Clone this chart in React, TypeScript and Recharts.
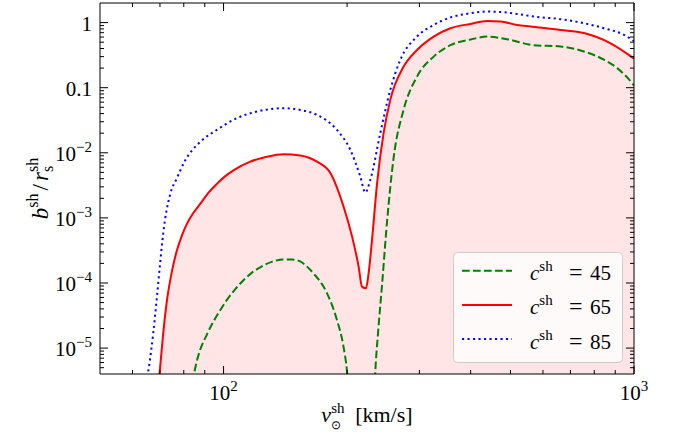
import React from 'react';
import { ComposedChart, Area, Line, XAxis, YAxis, Legend } from 'recharts';

const FONT = "'Liberation Serif', 'Times New Roman', serif";

// c^sh = 45: dips out of the frame between ~200 and ~234 km/s
const v45 = [84, 85.95, 87.7, 91.0, 94.4, 98.05, 101.9, 106.7, 111.8, 117.1, 122.8, 131.0, 140, 146.6, 153.7, 159.5, 165.7, 178.6, 188.9, 196, 199.9, 202, 233, 234.3, 238.0, 243.3, 250.2, 259.6, 274.6, 296, 325, 357, 400, 438.6, 490, 570, 662, 755, 844.5, 910, 990, 1000];
const b45 = [3e-6, 6.1e-6, 9.4e-6, 1.6e-5, 2.53e-5, 3.79e-5, 5.5e-5, 7.97e-5, 1.1e-4, 1.43e-4, 1.74e-4, 2.11e-4, 2.3e-4, 2.3e-4, 2.15e-4, 1.8e-4, 1.4e-4, 7.0e-5, 2.7e-5, 1.05e-5, 4.4e-6, 2e-6, 2e-6, 4.4e-6, 1.77e-5, 9.35e-5, 8.7e-4, 8.35e-3, 0.046, 0.148, 0.3, 0.45, 0.55, 0.61, 0.556, 0.45, 0.43, 0.36, 0.27, 0.2, 0.117, 0.108];

// c^sh = 65
const v65 = [69.3, 70, 71.3, 72.7, 74.8, 76.9, 79.1, 81.4, 84.4, 87.7, 91.8, 96.3, 100.8, 105.7, 116.1, 127.5, 140, 153.7, 168.9, 182, 196, 205.6, 213.3, 217.4, 222.3, 225.6, 230, 236.6, 245.4, 254.8, 274.6, 296, 325, 357, 399.5, 438.6, 472.7, 519, 559.5, 662, 755, 877, 1000];
const b65 = [2.5e-6, 4.8e-6, 1.71e-5, 5.1e-5, 1.48e-4, 3.1e-4, 5.3e-4, 8.1e-4, 1.19e-3, 1.64e-3, 2.42e-3, 3.33e-3, 4.34e-3, 5.37e-3, 7.3e-3, 8.7e-3, 9.5e-3, 9.1e-3, 7.3e-3, 4.9e-3, 1.5e-3, 5.2e-4, 1.8e-4, 8.8e-5, 8.3e-5, 1.4e-4, 4.6e-4, 3.4e-3, 0.02, 0.065, 0.211, 0.38, 0.61, 0.82, 0.955, 1.06, 1.04, 0.92, 0.87, 0.77, 0.69, 0.48, 0.28];

// c^sh = 85
const v85 = [64.8, 65.6, 67.4, 68.7, 70.0, 71.3, 74.1, 77.0, 80.6, 84.0, 87.7, 96.3, 107.7, 120.5, 140, 153.7, 168.9, 188.9, 203.6, 215.4, 221.5, 227.7, 240.9, 254.8, 269.5, 296, 325, 357, 399.5, 438.6, 481.5, 519, 570, 662, 755, 844.5, 945, 1000];
const b85 = [3e-6, 4.6e-6, 1.7e-5, 5.5e-5, 1.9e-4, 5.9e-4, 2.3e-3, 4.1e-3, 7.6e-3, 0.0111, 0.0147, 0.0225, 0.034, 0.043, 0.0484, 0.0456, 0.0382, 0.0225, 0.0111, 4.3e-3, 2.45e-3, 3.8e-3, 0.02, 0.0925, 0.267, 0.61, 0.92, 1.2, 1.39, 1.48, 1.44, 1.36, 1.24, 1.13, 0.98, 0.82, 0.65, 0.52];

const seriesNames = ['45', '65', '85'];

// axis ticks
const xMajor = [100, 1000];
const xTickLabels = ['10^2', '10^3'];
const xMinor = [60, 70, 80, 90, 200, 300, 400, 500, 600, 700, 800, 900];
const yMajor = [1e-5, 1e-4, 1e-3, 1e-2, 0.1, 1];
const yTickLabels = ['10^\u22125', '10^\u22124', '10^\u22123', '10^\u22122', '0.1', '1'];
const yMinor: number[] = [];
[1e-6, 1e-5, 1e-4, 1e-3, 1e-2, 0.1].forEach((d) => {
  [2, 3, 4, 5, 6, 7, 8, 9].forEach((m) => {
    const t = +(m * d).toPrecision(3);
    if (t > 4e-6 && t < 2) yMinor.push(t);
  });
});

const rows = (xs: number[], ys: number[]) => xs.map((v, i) => ({ v, b: ys[i] }));
const data45 = rows(v45, b45);
const data65 = rows(v65, b65);
const data85 = rows(v85, b85);

const styles = [
  { color: 'green', dash: '7.7 3.3' },
  { color: 'red', dash: undefined },
  { color: 'blue', dash: '2.1 3.4' },
];

const textStyle = { fontFamily: FONT };

const TickText = ({ x, y, anchor, label }: any) => {
  const [base, sup] = label.split('^');
  return (
    <text x={x} y={y} textAnchor={anchor} fontSize={21} style={textStyle} fill="#000">
      {base}
      {sup && (
        <tspan dy={-9} fontSize={15}>
          {sup}
        </tspan>
      )}
    </text>
  );
};

const XTick = (props: any) => {
  const { x, y, payload, side } = props;
  const i = xMajor.indexOf(payload.value);
  const len = i >= 0 ? 8 : 4;
  const dir = side === 'bottom' ? -1 : 1;
  return (
    <g>
      <line x1={x} x2={x} y1={y} y2={y + dir * len} stroke="#000" strokeWidth={1} />
      {side === 'bottom' && i >= 0 && <TickText x={x} y={y + 26} anchor="middle" label={xTickLabels[i]} />}
    </g>
  );
};

const YTick = (props: any) => {
  const { x, y, payload, side } = props;
  const i = yMajor.indexOf(payload.value);
  const len = i >= 0 ? 8 : 4;
  const dir = side === 'left' ? 1 : -1;
  return (
    <g>
      <line x1={x} x2={x + dir * len} y1={y} y2={y} stroke="#000" strokeWidth={1} />
      {side === 'left' && i >= 0 && <TickText x={x - 8} y={y + 8} anchor="end" label={yTickLabels[i]} />}
    </g>
  );
};

const XLabel = ({ viewBox }: any) => {
  const cx = viewBox.x + viewBox.width / 2;
  return (
    <text x={cx} y={viewBox.y + 48} textAnchor="middle" fontSize={22} style={textStyle} fill="#000">
      <tspan fontStyle="italic">v</tspan>
      <tspan dy={-9} fontSize={15}>sh</tspan>
      <tspan dx={-13.3} dy={16} fontSize={12}>{'\u2299'}</tspan>
      <tspan dx={14} dy={-7}>[km/s]</tspan>
    </text>
  );
};

const YLabel = ({ viewBox }: any) => {
  const cx = viewBox.x + 48;
  const cy = viewBox.y + viewBox.height / 2;
  return (
    <text x={cx} y={cy} transform={`rotate(-90 ${cx} ${cy})`} textAnchor="middle" fontSize={23} style={textStyle} fill="#000">
      <tspan fontStyle="italic">b</tspan>
      <tspan dy={-10} fontSize={16}>sh</tspan>
      <tspan dy={10} dx={3}>/</tspan>
      <tspan fontStyle="italic" dx={3}>r</tspan>
      <tspan dy={-10} fontSize={16}>sh</tspan>
      <tspan dx={-14.2} dy={15} fontSize={16}>s</tspan>
    </text>
  );
};

const LegendBox = () => (
  <svg width={170} height={111} style={{ display: 'block' }}>
    <rect x={0.5} y={0.5} width={169} height={110} rx={4} fill="#fff" fillOpacity={0.8} stroke="#cccccc" />
    {seriesNames.map((name, i) => {
      const cy = 18.7 + i * 34.2;
      return (
        <g key={name}>
          <line x1={9} x2={59} y1={cy} y2={cy} stroke={styles[i].color} strokeWidth={2} strokeDasharray={styles[i].dash} />
          <text x={77} y={cy + 9.5} fontSize={21} style={textStyle} fill="#000">
            <tspan fontStyle="italic">c</tspan>
            <tspan dy={-9} fontSize={15}>sh</tspan>
            <tspan x={116} dy={9} fontSize={24}>=</tspan>
            <tspan x={137}>{name}</tspan>
          </text>
        </g>
      );
    })}
  </svg>
);

const axisLine = { stroke: '#000', strokeWidth: 1 };

export default function App() {
  return (
    <div style={{ position: 'absolute', left: 0, top: 0, width: 675, height: 445, background: '#fff' }}>
      <ComposedChart width={675} height={445} margin={{ top: 0, right: 0, bottom: 0, left: 0 }}>
        <XAxis
          dataKey="v"
          type="number"
          scale="log"
          domain={[50, 1000]}
          allowDataOverflow
          ticks={[...xMajor, ...xMinor]}
          interval={0}
          height={71}
          tickSize={0}
          tickMargin={0}
          tickLine={false}
          axisLine={axisLine}
          tick={<XTick side="bottom" />}
          label={<XLabel />}
        />
        <XAxis
          xAxisId="top"
          orientation="top"
          dataKey="v"
          type="number"
          scale="log"
          domain={[50, 1000]}
          allowDataOverflow
          ticks={[...xMajor, ...xMinor]}
          interval={0}
          height={3}
          tickSize={0}
          tickMargin={0}
          tickLine={false}
          axisLine={axisLine}
          tick={<XTick side="top" />}
        />
        <YAxis
          type="number"
          scale="log"
          domain={[4e-6, 2]}
          allowDataOverflow
          ticks={[...yMajor, ...yMinor]}
          interval={0}
          width={100}
          tickSize={0}
          tickMargin={0}
          tickLine={false}
          axisLine={axisLine}
          tick={<YTick side="left" />}
          label={<YLabel />}
        />
        <YAxis
          yAxisId="right"
          orientation="right"
          type="number"
          scale="log"
          domain={[4e-6, 2]}
          allowDataOverflow
          ticks={[...yMajor, ...yMinor]}
          interval={0}
          width={41}
          tickSize={0}
          tickMargin={0}
          tickLine={false}
          axisLine={axisLine}
          tick={<YTick side="right" />}
        />
        <Area
          data={data65}
          dataKey="b"
          type="monotone"
          baseValue="dataMin"
          stroke="none"
          fill="red"
          fillOpacity={0.1}
          isAnimationActive={false}
        />
        {[data45, data65, data85].map((d, i) => (
          <Line
            key={seriesNames[i]}
            data={d}
            dataKey="b"
            name={seriesNames[i]}
            type="monotone"
            stroke={styles[i].color}
            strokeWidth={2}
            strokeDasharray={styles[i].dash}
            dot={false}
            activeDot={false}
            isAnimationActive={false}
          />
        ))}
        <Legend
          layout="horizontal"
          verticalAlign="middle"
          align="center"
          content={<LegendBox />}
          wrapperStyle={{ left: 453, top: 252, width: 170, height: 111 }}
        />
      </ComposedChart>
    </div>
  );
}
